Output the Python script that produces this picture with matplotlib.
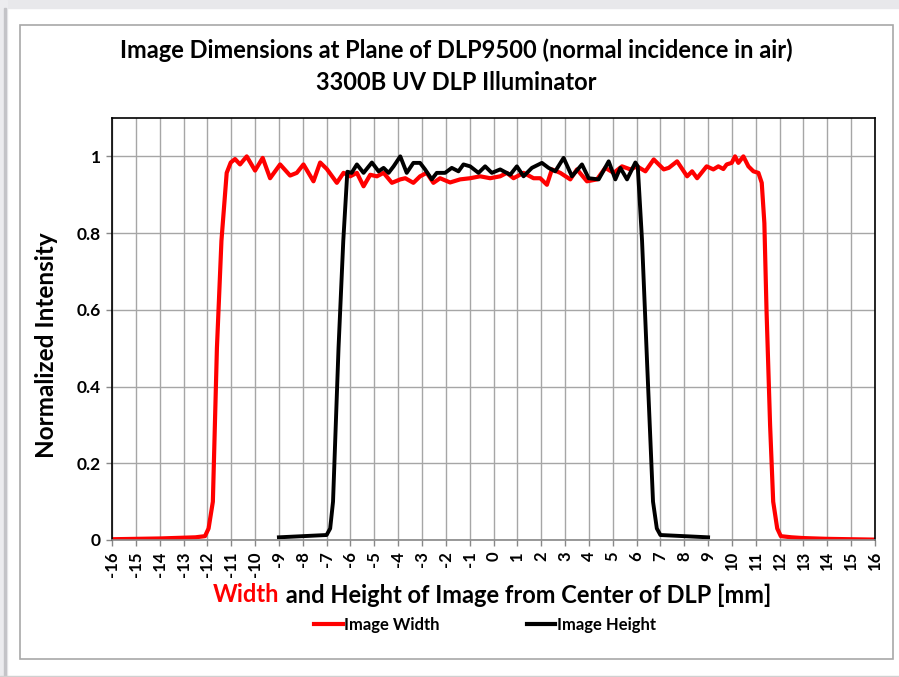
import numpy as np
import matplotlib
matplotlib.use("Agg")
import matplotlib.pyplot as plt
from matplotlib.lines import Line2D
from matplotlib.patches import Rectangle

plt.rcParams['font.family'] = ['Lato', 'DejaVu Sans']
plt.rcParams['font.weight'] = 'bold'

# Image Width profile (red)
width_x = [-16, -15, -14, -13, -12.5, -12.1, -11.95, -11.77, -11.6, -11.41, -11.19,
           -11.02, -10.84, -10.63, -10.35, -10.0, -9.68, -9.37, -8.95, -8.53, -8.25,
           -7.97, -7.55, -7.27, -6.99, -6.57, -6.29, -6.01, -5.73, -5.45, -5.17, -4.89,
           -4.61, -4.26, -3.91, -3.70, -3.36, -3.08, -2.80, -2.52, -2.24, -1.82, -1.40,
           -0.98, -0.56, -0.14, 0.28, 0.56, 0.84, 1.26, 1.68, 1.96, 2.24, 2.45, 2.80,
           3.22, 3.50, 3.92, 4.34, 4.69, 5.04, 5.39, 5.74, 6.02, 6.37, 6.72, 7.14, 7.35,
           7.70, 8.12, 8.33, 8.54, 8.94, 9.22, 9.43, 9.64, 9.78, 9.99, 10.13, 10.27,
           10.48, 10.69, 10.90, 11.11, 11.25, 11.36, 11.45, 11.6, 11.73, 11.9, 12.05,
           12.5, 13, 14, 15, 16]
width_y = [0.002, 0.003, 0.004, 0.006, 0.007, 0.010, 0.03, 0.10, 0.50, 0.78, 0.957,
           0.984, 0.993, 0.979, 1.0, 0.963, 0.996, 0.943, 0.979, 0.950, 0.957,
           0.979, 0.935, 0.984, 0.967, 0.931, 0.957, 0.948, 0.957, 0.922, 0.952, 0.948,
           0.957, 0.931, 0.940, 0.943, 0.931, 0.948, 0.957, 0.931, 0.943, 0.932, 0.940,
           0.943, 0.948, 0.943, 0.948, 0.957, 0.943, 0.957, 0.943, 0.943, 0.926, 0.966, 0.957,
           0.940, 0.966, 0.935, 0.940, 0.970, 0.957, 0.974, 0.966, 0.974, 0.961, 0.992, 0.966, 0.970,
           0.987, 0.948, 0.961, 0.943, 0.974, 0.966, 0.974, 0.967, 0.979, 0.983, 1.0, 0.983,
           1.0, 0.974, 0.961, 0.957, 0.931, 0.826, 0.60, 0.30, 0.10, 0.03, 0.010,
           0.007, 0.005, 0.003, 0.002, 0.001]

# Image Height profile (black)
height_x = [-9, -8, -7, -6.85, -6.73, -6.5, -6.3, -6.13, -5.95, -5.73, -5.45, -5.10,
            -4.82, -4.61, -4.40, -4.19, -3.91, -3.64, -3.36, -3.08, -2.87, -2.59, -2.38,
            -2.03, -1.75, -1.47, -1.26, -0.98, -0.63, -0.35, -0.07, 0.28, 0.70, 0.98,
            1.26, 1.61, 2.03, 2.31, 2.59, 2.94, 3.29, 3.71, 3.99, 4.41, 4.83, 5.11, 5.32,
            5.60, 5.95, 6.05, 6.23, 6.45, 6.69, 6.85, 7.0, 8, 9]
height_y = [0.007, 0.010, 0.013, 0.03, 0.10, 0.50, 0.78, 0.96, 0.957, 0.979, 0.957, 0.984,
            0.961, 0.970, 0.957, 0.974, 1.0, 0.957, 0.983, 0.983, 0.966, 0.940, 0.957,
            0.957, 0.970, 0.961, 0.979, 0.974, 0.957, 0.974, 0.957, 0.966, 0.952, 0.974,
            0.948, 0.970, 0.983, 0.970, 0.961, 0.996, 0.948, 0.979, 0.943, 0.940, 0.987, 0.940, 0.970,
            0.940, 0.984, 0.974, 0.78, 0.45, 0.10, 0.03, 0.013, 0.010, 0.007]

x_ticks = np.arange(-16, 17, 1)
y_ticks = [0, 0.2, 0.4, 0.6, 0.8, 1]
y_labels = ['0', '0.2', '0.4', '0.6', '0.8', '1']

W, H = 899, 677
fig = plt.figure(figsize=(W / 100, H / 100), dpi=100)

# page frame around the chart
fig.patches.append(Rectangle((0, 1 - 8 / H), 1, 8 / H, transform=fig.transFigure,
                             color='#e8e8eb', zorder=0))
fig.patches.append(Rectangle((0, 0), 7 / W, 1, transform=fig.transFigure,
                             color='#ececef', zorder=0))
fig.patches.append(Rectangle((4 / W, 0), 2 / W, 1 - 8 / H, transform=fig.transFigure,
                             color='#c4c4c8', zorder=0))
fig.patches.append(Rectangle((0, 0), 1, 1.5 / H, transform=fig.transFigure,
                             color='#d0d0d0', zorder=0))
fig.patches.append(Rectangle((19.5 / W, 1 - 659 / H), (893 - 19.5) / W, (659 - 25) / H,
                             transform=fig.transFigure, fill=False,
                             edgecolor='#a8a8a8', linewidth=1.2, zorder=0))

ax = fig.add_axes([112 / W, 1 - 540 / H, (875 - 112) / W, (540 - 118) / H])

ax.plot(width_x, width_y, color='#ff0000', linewidth=3.0, label='Image Width',
        solid_joinstyle='round')
ax.plot(height_x, height_y, color='black', linewidth=2.8, label='Image Height',
        solid_joinstyle='round')

ax.set_xlim(-16, 16)
ax.set_ylim(0, 1.1)
ax.set_xticks(x_ticks)
ax.set_xticklabels([str(v) for v in x_ticks], rotation=90, fontsize=12, fontweight='bold')
ax.set_yticks(y_ticks)
ax.set_yticklabels(y_labels, fontsize=12.5, fontweight='bold')
ax.grid(True, color='#a6a6a6', linewidth=1.0)
ax.set_axisbelow(True)
ax.tick_params(axis='both', direction='out', length=4, width=1, color='#888888', pad=4)
for side in ['top', 'right', 'left']:
    ax.spines[side].set_color('black')
    ax.spines[side].set_linewidth(1.2)
ax.spines['bottom'].set_color('#888888')
ax.spines['bottom'].set_linewidth(1.2)

ax.set_ylabel('Normalized Intensity', fontsize=17.5, fontweight='bold')
ax.yaxis.set_label_coords(-0.071, 0.462)

fig.text(456 / W, 1 - 50 / H, 'Image Dimensions at Plane of DLP9500 (normal incidence in air)',
         ha='center', va='center', fontsize=17, fontweight='bold')
fig.text(456 / W, 1 - 82 / H, '3300B UV DLP Illuminator',
         ha='center', va='center', fontsize=17, fontweight='bold')

# x label in two colours
t1 = fig.text(213 / W, 1 - 595 / H, 'Width', color='#ff0000', ha='left', va='center',
              fontsize=17, fontweight='bold')
ax.annotate(' and Height of Image from Center of DLP [mm]', xy=(1, 0.5), xycoords=t1,
            ha='left', va='center', fontsize=17, fontweight='bold', color='black',
            annotation_clip=False)

handles = [Line2D([], [], color='#ff0000', linewidth=3.0),
           Line2D([], [], color='black', linewidth=3.0)]
fig.legend(handles, ['Image Width', 'Image Height'], loc='center',
           bbox_to_anchor=(485 / W, 1 - 625 / H), ncol=2, frameon=False,
           handlelength=1.7, handletextpad=0.1, columnspacing=5.2,
           prop={'weight': 'bold', 'size': 12})

fig.savefig('out.png', dpi=100)
